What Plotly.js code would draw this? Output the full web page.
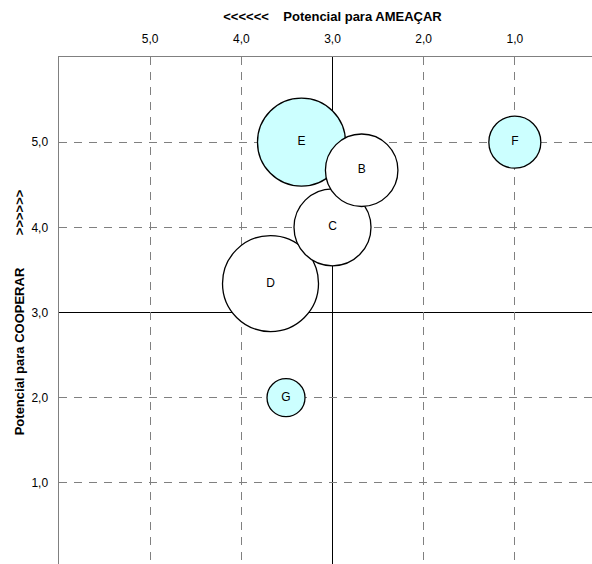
<!DOCTYPE html>
<html><head><meta charset="utf-8">
<script src="https://cdn.plot.ly/plotly-3.0.1.min.js"></script>
<style>html,body{margin:0;padding:0;overflow:hidden;background:#fff;}</style>
</head><body>
<div id="chart"></div>
<script>
// drawn largest first, as in the reference
const labels = ["D", "E", "C", "B", "F", "G"];
const ameacar = [3.68, 3.34, 3.0, 2.68, 1.0, 3.51];
const cooperar = [3.34, 5.0, 4.0, 4.67, 5.0, 2.0];
const bubbleSize = [96, 88, 77, 72.5, 52, 38];
const fills = ["#FFFFFF", "#CCFFFF", "#FFFFFF", "#FFFFFF", "#CCFFFF", "#CCFFFF"];
const tickVals = [1, 2, 3, 4, 5];
const tickText = ["1,0", "2,0", "3,0", "4,0", "5,0"];
const midX = 3, midY = 3;
const gridVals = tickVals.filter(v => v !== midX);

const font = {family: "Liberation Sans, Arial, sans-serif", size: 12, color: "#000"};
const titleFont = {family: "Liberation Sans, Arial, sans-serif", size: 13, color: "#000"};
const minorGrid = {tickvals: gridVals, showgrid: true, gridcolor: "#808080", griddash: "8px,7px", gridwidth: 1, ticks: ""};
const sp = n => "\u00a0".repeat(n);

Plotly.newPlot("chart", [{
  type: "scatter", mode: "markers+text",
  x: ameacar, y: cooperar, text: labels,
  textposition: "middle center",
  textfont: font,
  marker: {size: bubbleSize, sizemode: "diameter", color: fills, opacity: 1,
           line: {color: "#000", width: 1.3}},
  hoverinfo: "none", cliponaxis: false
}], {
  width: 620, height: 600,
  margin: {l: 59, r: 14, t: 57, b: 32},
  paper_bgcolor: "#fff", plot_bgcolor: "#fff",
  showlegend: false, font: font,
  xaxis: {side: "top", range: [6, 0], tickvals: tickVals, ticktext: tickText,
          showgrid: false, minor: minorGrid,
          zeroline: false, showline: true, linecolor: "#808080", linewidth: 1.5,
          ticks: "", tickfont: font, ticklabelstandoff: 8,
          title: {text: "<b><<<<<<" + sp(4) + "Potencial para AMEAÇAR</b>", font: titleFont, standoff: 7}},
  yaxis: {range: [0, 6], tickvals: tickVals, ticktext: tickText,
          showgrid: false, minor: minorGrid,
          zeroline: false, showline: true, linecolor: "#808080", linewidth: 1.5,
          ticks: "", tickfont: font, ticklabelstandoff: 7,
          title: {text: "<b>Potencial para COOPERAR" + sp(9) + ">>>>>></b>", font: titleFont, standoff: 4}},
  shapes: [
    {type: "line", xref: "x", yref: "paper", x0: midX, x1: midX, y0: 0, y1: 1, line: {color: "#000", width: 1}, layer: "below"},
    {type: "line", xref: "paper", yref: "y", x0: 0, x1: 1, y0: midY, y1: midY, line: {color: "#000", width: 1}, layer: "below"}
  ]
}, {displayModeBar: false, staticPlot: true});
</script>
</body></html>
